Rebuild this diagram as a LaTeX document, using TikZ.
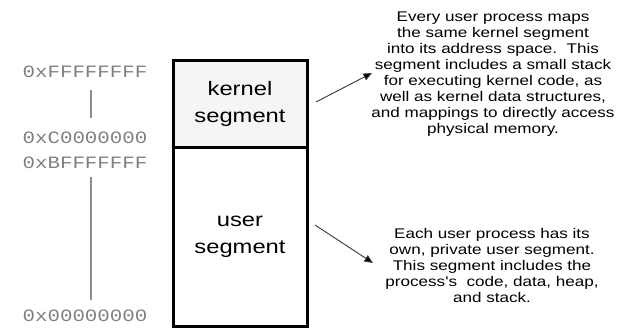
\documentclass[tikz,border=0pt]{standalone}
\usepackage{fontspec}
\setmainfont{Liberation Sans}[FakeStretch=1.22,Ligatures=TeXOff]
\setmonofont{Liberation Mono}[FakeStretch=1.2]
\usetikzlibrary{arrows.meta}
\definecolor{kfill}{HTML}{F5F5F5}
\definecolor{addr}{HTML}{808080}
\definecolor{vl}{HTML}{8C8C8C}
\definecolor{ptrc}{HTML}{3A3A3A}
\begin{document}
\begin{tikzpicture}[x=0.75pt,y=-0.75pt,
  seg/.style={draw=black, line width=2.25pt, minimum width=100.5pt, inner sep=0pt,
    align=center, font=\fontsize{14.6}{20.25}\selectfont},
  addrlabel/.style={font=\ttfamily\fontsize{13}{15}\selectfont, text=addr,
    inner sep=0pt, text height=7.5pt, text depth=0pt},
  vline/.style={draw=vl, line width=0.9pt},
  note/.style={align=center, inner sep=0pt, font=\fontsize{10.5}{12}\selectfont},
  ptr/.style={draw=ptrc, line width=0.7pt, -{Triangle[length=6.5pt,width=5.5pt,fill=black]}}
]
\useasboundingbox (0,0) rectangle (620,328);

% segments
\node[seg, minimum height=134.25pt] (user) at (240,236.5) {user\\segment};
\node[seg, fill=kfill, minimum height=64.5pt] (kernel) at (240,104) {kernel\\segment};

% address labels
\node[addrlabel] (ff) at (85,73) {0xFFFFFFFF};
\node[addrlabel] (c0) at (85,138) {0xC0000000};
\node[addrlabel] (bf) at (85,163) {0xBFFFFFFF};
\node[addrlabel] (z) at (85,316) {0x00000000};
\draw[vline] ([xshift=4.5pt,yshift=-9pt]ff.south) -- ([xshift=4.5pt,yshift=11.25pt]c0.north);
\draw[vline] ([xshift=4.5pt,yshift=-6.75pt]bf.south) -- ([xshift=4.5pt,yshift=8.25pt]z.north);

% notes
\node[note] (knote) at (493,74) {Every user process maps\\the same kernel segment\\into its address space.\ \ This\\segment includes a small stack\\for executing kernel code, as\\well as kernel data structures,\\and mappings to directly access\\physical memory.};
\node[note] (unote) at (492,265.5) {Each user process has its\\own, private user segment.\\This segment includes the\\process's\ \ code, data, heap,\\and stack.};

% pointers
\coordinate (ks) at (316,102);
\coordinate (kt) at (372,73);
\coordinate (us) at (315,225);
\coordinate (ut) at (373,263);
\draw[ptr] (ks) -- (kt);
\draw[ptr] (us) -- (ut);
\end{tikzpicture}
\end{document}
